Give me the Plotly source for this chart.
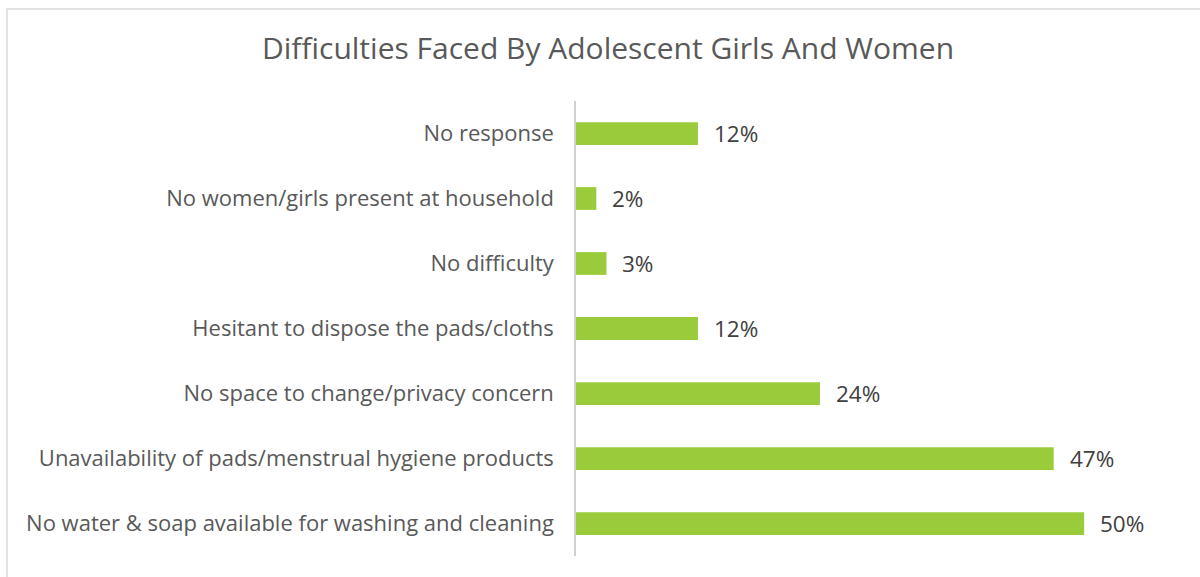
import plotly.graph_objects as go

# Survey responses, listed bottom-to-top as drawn on the category axis
categories = [
    "No water & soap available for washing and cleaning",
    "Unavailability of pads/menstrual hygiene products",
    "No space to change/privacy concern",
    "Hesitant to dispose the pads/cloths",
    "No difficulty",
    "No women/girls present at household",
    "No response",
]
percentages = [50, 47, 24, 12, 3, 2, 12]

W, H = 1200, 577
left, right, top, bottom = 576, 1135, 101, 556
FONT = "Open Sans, Liberation Sans, sans-serif"

fig = go.Figure(
    go.Bar(
        x=percentages,
        y=categories,
        orientation="h",
        marker=dict(color="#9ACB3A", line=dict(width=0)),
        width=0.35,
        hoverinfo="skip",
    )
)

# Value labels to the right of each bar
for cat, val in zip(categories, percentages):
    fig.add_annotation(
        x=val, y=cat, xref="x", yref="y",
        text=f"{val}%", showarrow=False,
        xanchor="left", yanchor="middle", xshift=14,
        font=dict(family=FONT, size=22.5, color="#404040"),
    )

# Light chart-area frame
pw, ph = right - left, bottom - top
fig.add_shape(
    type="rect", xref="paper", yref="paper",
    x0=(7 - left) / pw, x1=(1215 - left) / pw,
    y0=(bottom - 600) / ph, y1=(bottom - 9) / ph,
    line=dict(color="#d9d9d9", width=1.5), fillcolor="rgba(0,0,0,0)",
    layer="below",
)

fig.update_layout(
    width=W, height=H,
    margin=dict(l=left, r=W - right, t=top, b=H - bottom, pad=0),
    paper_bgcolor="white", plot_bgcolor="white",
    showlegend=False,
    title=dict(
        text="Difficulties Faced By Adolescent Girls And Women",
        x=608 / W, xanchor="center", xref="container",
        y=1 - 48 / H, yanchor="middle", yref="container",
        font=dict(family=FONT, size=30, color="#595959"),
    ),
    xaxis=dict(
        range=[0, 55], visible=False, showgrid=False, zeroline=False, fixedrange=True,
    ),
    yaxis=dict(
        showline=True, linecolor="#d0d0d0", linewidth=1.5,
        showgrid=False, zeroline=False, ticks="",
        ticklabelstandoff=16,
        tickfont=dict(family=FONT, size=22, color="#595959"),
        categoryorder="array", categoryarray=categories,
    ),
)

fig.write_html("out.html")
